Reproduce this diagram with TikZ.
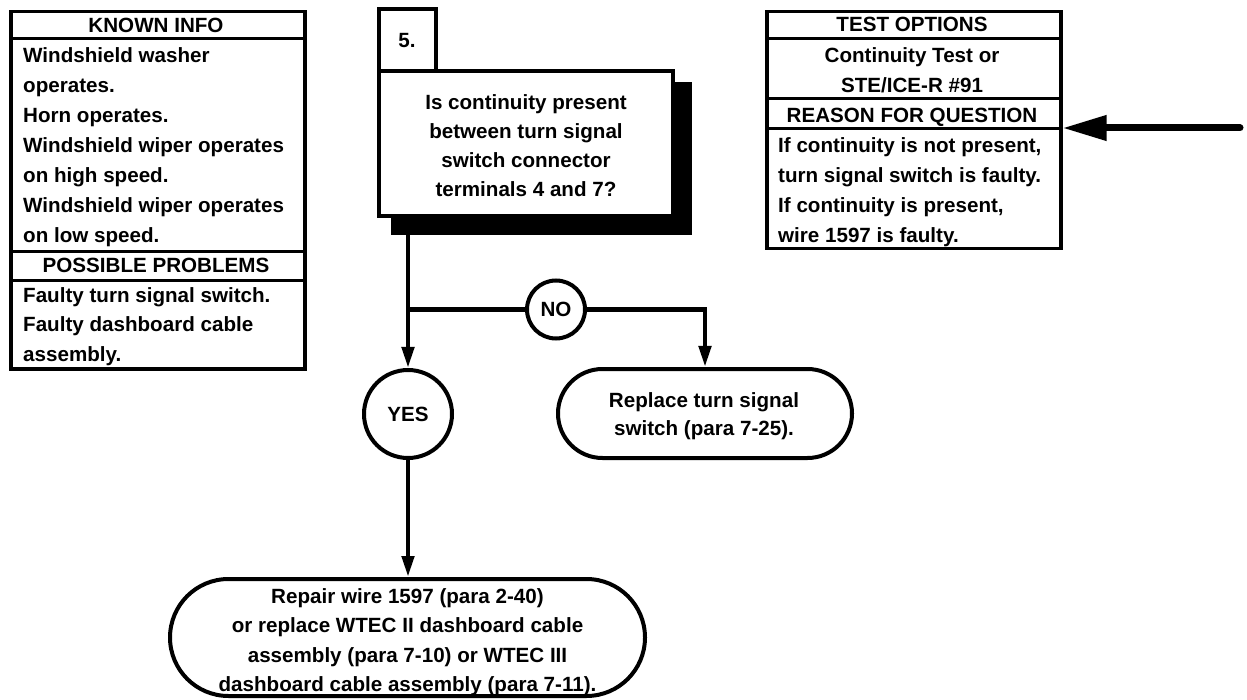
\documentclass[tikz,border=0pt]{standalone}
\usepackage{fontspec}
\setmainfont{Liberation Sans}
\usetikzlibrary{arrows.meta, shapes.misc}

\begin{document}
\begin{tikzpicture}[x=1pt,y=-1pt,
    txt/.style={font=\fontsize{20.6}{30}\selectfont\bfseries, inner sep=0pt},
    cell/.style={draw, line width=3.5pt, anchor=north west, inner sep=0pt, minimum width=294pt},
    ring/.style={circle, draw, line width=4pt, fill=white, inner sep=0pt, txt},
    pill/.style={rounded rectangle, draw, line width=4pt, inner sep=0pt},
    conn/.style={line width=4.5pt},
    tip/.style={-{Triangle[length=21pt,width=12pt]}}]
    \useasboundingbox (0,0) rectangle (1247,700);

    % Known info and possible problems
    \node[cell, minimum height=27pt] (known) at (9,10) {};
    \node[cell, minimum height=213pt] (knownb) at (9,37) {};
    \node[cell, minimum height=29pt] (poss) at (9,250) {};
    \node[cell, minimum height=88pt] (possb) at (9,279) {};
    \node[txt, anchor=base] (knownt) at (156,33) {KNOWN INFO};
    \foreach \t [count=\i from 0] in {Windshield washer, operates., Horn operates.,
        Windshield wiper operates, on high speed., Windshield wiper operates, on low speed.}
        \node[txt, anchor=base west] (kn\i) at (23,63+30*\i) {\t};
    \node[txt, anchor=base] (posst) at (156,273) {POSSIBLE PROBLEMS};
    \foreach \t [count=\i from 0] in {Faulty turn signal switch., Faulty dashboard cable, assembly.}
        \node[txt, anchor=base west] (pp\i) at (23,303+29*\i) {\t};

    % Test options and reason for question
    \node[cell, minimum height=27pt] (tst) at (765,10) {};
    \node[cell, minimum height=60pt] (tstb) at (765,37) {};
    \node[cell, minimum height=30pt] (rsn) at (765,97) {};
    \node[cell, minimum height=120pt] (rsnb) at (765,127) {};
    \node[txt, anchor=base] (tstt) at (912,32) {TEST OPTIONS};
    \node[txt, anchor=base] (tst1) at (912,63) {Continuity Test or};
    \node[txt, anchor=base] (tst2) at (912,93) {STE/ICE-R \#91};
    \node[txt, anchor=base] (rsnt) at (912,123) {REASON FOR QUESTION};
    \foreach \t [count=\i from 0] in {{If continuity is not present,}, turn signal switch is faulty.,
        {If continuity is present,}, wire 1597 is faulty.}
        \node[txt, anchor=base west] (rs\i) at (778,153+30*\i) {\t};

    % Question box with its shadow
    \node[fill, inner sep=0pt, anchor=north west, minimum width=301pt, minimum height=153pt] (shade) at (391,82) {};
    \node[draw, fill=white, line width=3.5pt, inner sep=0pt, minimum width=294pt, minimum height=145pt] (q) at (526,143.5) {};
    \node[draw, line width=3.5pt, inner sep=0pt, minimum width=57pt, minimum height=62pt] (num) at (407.5,40) {};
    \node[txt, anchor=base] (numt) at (407,48) {5.};
    \foreach \t [count=\i from 0] in {Is continuity present, between turn signal,
        switch connector, terminals 4 and 7?}
        \node[txt, anchor=base] (q\i) at (526,110+29*\i) {\t};

    % Answers
    \node[ring, minimum size=88pt] (yes) at (408,414) {YES};
    \node[ring, minimum size=58pt] (no) at (556,309.5) {NO};
    \node[pill, minimum width=294pt, minimum height=89pt] (rep) at (705,413.5) {};
    \node[txt, anchor=base] (rep0) at (704,407) {Replace turn signal};
    \node[txt, anchor=base] (rep1) at (704,435) {switch (para 7-25).};
    \node[pill, minimum width=475pt, minimum height=117pt] (fix) at (407.5,637.5) {};
    \foreach \t [count=\i from 0] in {Repair wire 1597 (para 2-40), or replace WTEC II dashboard cable,
        assembly (para 7-10) or WTEC III, dashboard cable assembly (para 7-11).}
        \node[txt, anchor=base] (fix\i) at (407.5,603+29.5*\i) {\t};

    % Connectors
    \draw[conn, tip] (yes |- shade.south) -- (yes);
    \draw[conn] (yes |- no) -- (no);
    \draw[conn, tip] (no) -| (rep);
    \draw[conn, tip] (yes) -- (yes |- fix.north);

    % Entry arrow
    \coordinate (src) at (1240,128);
    \draw[line width=7pt, line cap=round, -{Triangle[length=44pt,width=24pt]}] (src) -- (src -| rsn.east);
\end{tikzpicture}
\end{document}
